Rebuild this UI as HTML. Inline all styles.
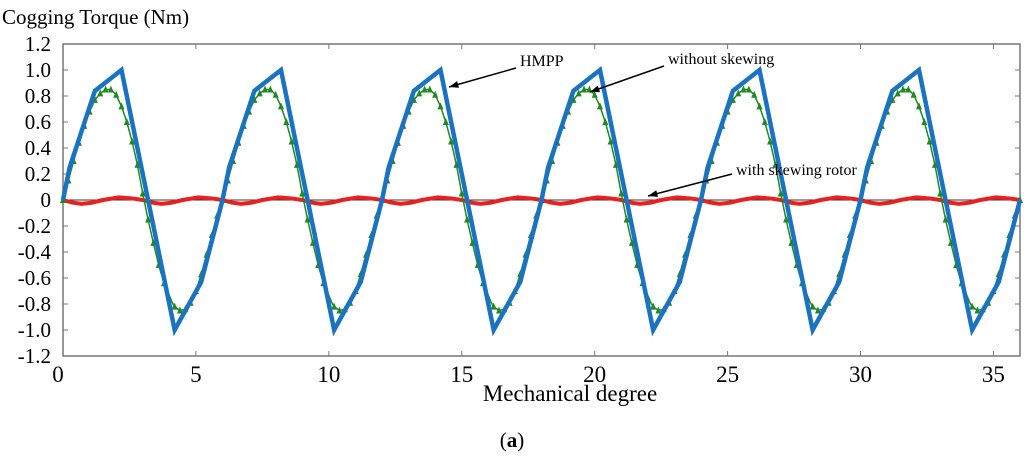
<!DOCTYPE html>
<html><head><meta charset="utf-8"><style>
html,body{margin:0;padding:0;background:#fff;}
svg{display:block;font-family:"Liberation Serif",serif;}
</style></head><body>
<svg id="chart" width="1024" height="468" viewBox="0 0 1024 468" xmlns="http://www.w3.org/2000/svg">
<text x="2" y="24" font-size="21">Cogging Torque (Nm)</text>
<text x="570" y="401" font-size="23" text-anchor="middle">Mechanical degree</text>
<text x="512" y="447" font-size="21" text-anchor="middle">(<tspan font-weight="bold">a</tspan>)</text>
<g id="axes"></g>
<g id="marks"></g>
<g id="annot"></g>
</svg>
<script>
const xTicks=[0,5,10,15,20,25,30,35];
const yTicks=[1.2,1.0,0.8,0.6,0.4,0.2,0,-0.2,-0.4,-0.6,-0.8,-1.0,-1.2];
const yTickLabels=["1.2","1.0","0.8","0.6","0.4","0.2","0","-0.2","-0.4","-0.6","-0.8","-1.0","-1.2"];
const periodStarts=[0,6,12,18,24,30];
// HMPP one period (deg offset, torque)
const hmppX=[0,0.25,1.2,2.2,4.2,5.2,6.0];
const hmppY=[0,0.25,0.84,1.0,-1.0,-0.63,0];
// without skewing one period
const noSkewX=[0,0.2,0.4,0.6,0.8,1.0,1.2,1.4,1.6,1.8,2.0,2.2,2.4,2.6,2.8,3.0,3.2,3.4,3.6,3.8,4.0,4.2,4.4,4.6,4.8,5.0,5.2,5.4,5.6,5.8];
const noSkewY=[0,0.15,0.30,0.44,0.57,0.68,0.77,0.82,0.85,0.85,0.81,0.72,0.60,0.45,0.27,0.05,-0.15,-0.33,-0.50,-0.64,-0.75,-0.82,-0.85,-0.84,-0.79,-0.70,-0.57,-0.42,-0.27,-0.12];
// with skewing rotor one 3-degree period
const skewX=[0,0.35,0.7,1.1,1.5,2.1,2.6];
const skewY=[0,-0.02,-0.03,-0.02,0.0,0.02,0.012];
const xMin=0,xMax=36,L=63,R=1020,T=44,B=356;
const sx=v=>L+(v-xMin)/(xMax-xMin)*(R-L);
const sy=v=>T+(1.2-v)/2.4*(B-T);
const NS="http://www.w3.org/2000/svg";
function mk(tag,attrs,parent){const e=document.createElementNS(NS,tag);for(const k in attrs)e.setAttribute(k,attrs[k]);parent.appendChild(e);return e;}
const axes=document.getElementById('axes'),marks=document.getElementById('marks'),annot=document.getElementById('annot');
let fr=mk('rect',{x:L,y:T,width:R-L,height:B-T,fill:'none',stroke:'#777','stroke-width':1.5},axes);


let zl=mk('line',{x1:L,x2:R,y1:sy(0),y2:sy(0),stroke:'#333','stroke-width':1},axes);


xTicks.forEach(t=>{
 mk('line',{x1:sx(t),x2:sx(t),y1:B,y2:B-5,stroke:'#777'},axes);
 mk('line',{x1:sx(t),x2:sx(t),y1:T,y2:T+5,stroke:'#777'},axes);
 const tx=mk('text',{x:sx(t)+(t===0?-5:0),y:B+26,'font-size':23,'text-anchor':'middle'},axes);
 tx.textContent=t;
 
 
});
yTicks.forEach((t,i)=>{
 mk('line',{x1:L,x2:L+5,y1:sy(t),y2:sy(t),stroke:'#777'},axes);
 mk('line',{x1:R,x2:R-5,y1:sy(t),y2:sy(t),stroke:'#777'},axes);
 const tx=mk('text',{x:L-12,y:sy(t)+7,'font-size':21,'text-anchor':'end'},axes);
 tx.textContent=yTickLabels[i];
 
 
});
function build(px,py,starts){const pts=[];starts.forEach(s=>{px.forEach((x,i)=>{const X=s+x;if(X<=xMax)pts.push([X,py[i]]);});});return pts;}
// red
const redStarts=[0,3,6,9,12,15,18,21,24,27,30,33];
const red=build(skewX,skewY,redStarts);red.push([xMax,0]);
let rp=mk('polyline',{points:red.map(p=>sx(p[0])+','+sy(p[1])).join(' '),fill:'none',stroke:'#e8201e','stroke-width':4},marks);


// green
const green=build(noSkewX,noSkewY,periodStarts);green.push([36,0]);
let gp=mk('polyline',{points:green.map(p=>sx(p[0])+','+sy(p[1])).join(' '),fill:'none',stroke:'#1f8a1f','stroke-width':1.5},marks);


green.forEach(p=>{const x=sx(p[0]),y=sy(p[1]);
 const m=mk('polygon',{points:`${x-3},${y+3} ${x+3},${y+3} ${x},${y-4}`,fill:'#1f8a1f'},marks);
 
 });
// blue
const blue=build(hmppX,hmppY,periodStarts);
let bp=mk('polyline',{points:blue.map(p=>sx(p[0])+','+sy(p[1])).join(' '),fill:'none',stroke:'#1a73c2','stroke-width':4.5,'stroke-linejoin':'miter'},marks);


// annotations
function note(name,text,tx,ty,x1,y1,x2,y2){
 const t=mk('text',{x:tx,y:ty,'font-size':16},annot);t.textContent=text;
 
 
 const l=mk('line',{x1:x1,y1:y1,x2:x2,y2:y2,stroke:'#000','stroke-width':1.5},annot);
 
 
 const a=Math.atan2(y2-y1,x2-x1),s=10;
 mk('polygon',{points:`${x2},${y2} ${x2-s*Math.cos(a-0.35)},${y2-s*Math.sin(a-0.35)} ${x2-s*Math.cos(a+0.35)},${y2-s*Math.sin(a+0.35)}`,fill:'#000'},annot);
}
note('hmpp','HMPP',520,66,516,68,449,87);
note('without-skewing','without skewing',668,64,664,66,590,92);
note('with-skewing-rotor','with skewing rotor',736,175,732,174,648,196);
</script>
</body></html>
